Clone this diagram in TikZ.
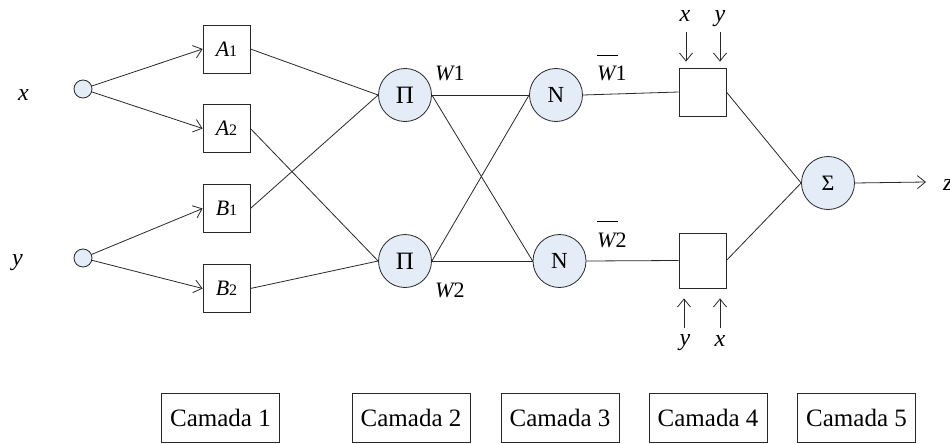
\documentclass[tikz,border=0pt]{standalone}
\usepackage{fontspec}
\setmainfont{Liberation Serif}
\usetikzlibrary{arrows.meta}
\definecolor{nodefill}{RGB}{228,236,247}
\definecolor{edge}{RGB}{40,40,40}
\newcommand{\subone}[1]{{\fontsize{16}{16}\selectfont #1}}
\newcommand{\barW}{\makebox[0pt][l]{\raisebox{1.15em}{\rule{0.95em}{0.7pt}}}{\itshape W}}
\begin{document}
\begin{tikzpicture}[x=1pt,y=-1pt,
  every node/.style={font=\fontsize{22}{26}\selectfont},
  inp/.style={circle,draw=edge,line width=0.8pt,fill=nodefill,minimum size=18pt,inner sep=0pt},
  lbox/.style={rectangle,draw=edge,line width=0.8pt,minimum width=47pt,minimum height=48pt,inner sep=0pt},
  neuron/.style={circle,draw=edge,line width=0.8pt,fill=nodefill,minimum size=53pt,inner sep=0pt},
  camada/.style={rectangle,draw=edge,line width=0.8pt,minimum width=118pt,minimum height=49pt,inner sep=0pt,font=\fontsize{25}{30}\selectfont},
  lab/.style={anchor=base,inner sep=0pt,font=\fontsize{24}{28}\selectfont\itshape},
  wlab/.style={anchor=base west,inner sep=0pt},
  conn/.style={draw=edge,line width=0.8pt},
  arr/.style={conn,-{Straight Barb[length=8pt,width=13pt,line width=0.8pt]}}
]
\useasboundingbox (0,0) rectangle (950,444);

% inputs
\node[inp] (ix) at (83,89) {};
\node[inp] (iy) at (83,258) {};
\node[lab] (lx) at (23.5,100) {x};
\node[lab] (ly) at (17.5,265) {y};

% layer 1
\node[lbox] (a1) at (226.5,49) {{\itshape A}\subone{1}};
\node[lbox] (a2) at (226.5,128.5) {{\itshape A}\subone{2}};
\node[lbox] (b1) at (226.5,208.5) {{\itshape B}\subone{1}};
\node[lbox] (b2) at (226.5,288.5) {{\itshape B}\subone{2}};

% layer 2
\node[neuron,font=\fontsize{25}{28}\selectfont] (p1) at (405,95) {Π};
\node[neuron,font=\fontsize{25}{28}\selectfont] (p2) at (405,261) {Π};
\node[wlab] (w1) at (435,81) {{\itshape W}1};
\node[wlab] (w2) at (435,297) {{\itshape W}2};

% layer 3
\node[neuron,font=\fontsize{23}{26}\selectfont] (n1) at (556,95) {N};
\node[neuron,font=\fontsize{23}{26}\selectfont] (n2) at (559.5,261) {N};
\node[wlab] (wb1) at (597,81) {\barW 1};
\node[wlab] (wb2) at (597,247) {\barW 2};

% layer 4
\node[lbox] (c1) at (702.5,92) {};
\node[lbox,minimum height=55pt] (c2) at (702.5,260.5) {};
\node[lab] (tx) at (685,22) {x};
\node[lab] (ty) at (720,22) {y};
\node[lab] (by) at (685,345) {y};
\node[lab] (bx) at (720,346) {x};
\coordinate (tax) at (686,32);
\coordinate (tay) at (720,32);
\coordinate (bay) at (684,328);
\coordinate (bax) at (720,328);

% layer 5
\node[neuron,font=\fontsize{22}{26}\selectfont] (s) at (828,183) {Σ};
\coordinate (zend) at (926,182);
\node[lab,anchor=base west] (z) at (943,190) {z};

% connectors
\draw[arr] (ix) -- (a1.west);
\draw[arr] (ix) -- (a2.west);
\draw[arr] (iy) -- (b1.west);
\draw[arr] (iy) -- (b2.west);

\draw[conn] (a1.east) -- (p1.west);
\draw[conn] (b1.east) -- (p1.west);
\draw[conn] (a2.east) -- (p2.west);
\draw[conn] (b2.east) -- (p2.west);

\draw[conn] (p1.east) -- (n1.west);
\draw[conn] (p1.east) -- (n2.west);
\draw[conn] (p2.east) -- (n1.west);
\draw[conn] (p2.east) -- (n2.west);

\draw[conn] (n1.east) -- (c1.west);
\draw[conn] (n2.east) -- (c2.west);

\draw[arr,shorten >=6pt] (tax) -- (tax |- c1.north);
\draw[arr,shorten >=6pt] (tay) -- (tay |- c1.north);
\draw[arr,shorten >=10pt] (bay) -- (bay |- c2.south);
\draw[arr,shorten >=10pt] (bax) -- (bax |- c2.south);

\draw[conn] (c1.east) -- (s.west);
\draw[conn] (c2.east) -- (s.west);
\draw[arr] (s.east) -- (zend);

% layer captions
\node[camada] (k1) at (220.5,417.5) {Camada 1};
\node[camada] (k2) at (411,417.5) {Camada 2};
\node[camada] (k3) at (560,417.5) {Camada 3};
\node[camada] (k4) at (708,417.5) {Camada 4};
\node[camada] (k5) at (856.5,417.5) {Camada 5};
\end{tikzpicture}
\end{document}
